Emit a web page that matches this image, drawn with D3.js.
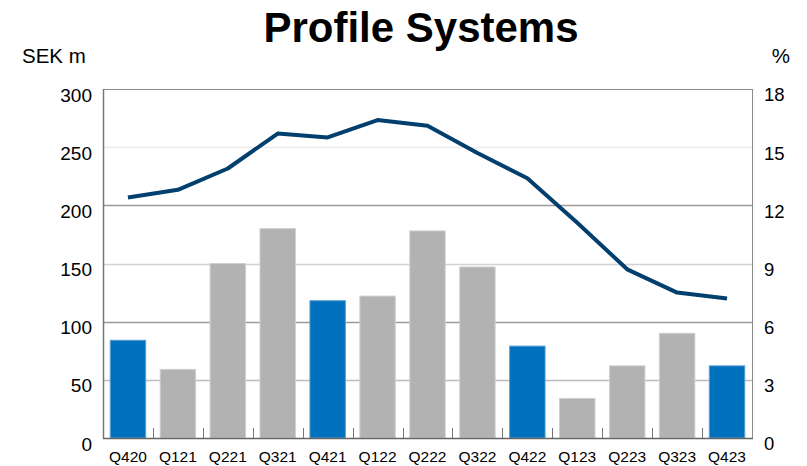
<!DOCTYPE html>
<html lang="en">
  <head>
    <meta charset="utf-8" />
    <script src="https://d3js.org/d3.v7.min.js"></script>
    <style>
      body { margin: 0; background: #fff; }
      text { font-family: "Liberation Sans", Arial, sans-serif; fill: #000; }
    </style>
  </head>
  <body>
    <script type="text/javascript">

      // data
      var quarters = ["Q420", "Q121", "Q221", "Q321", "Q421", "Q122", "Q222",
                      "Q322", "Q422", "Q123", "Q223", "Q323", "Q423"];
      var sales = [84, 59, 150, 180, 118, 122, 178, 147, 79, 34, 62, 90, 62];
      var margin = [12.4, 12.8, 13.9, 15.7, 15.5, 16.4, 16.1, 14.7, 13.4,
                    11.1, 8.7, 7.5, 7.2];
      var fourthQuarter = ["Q420", "Q421", "Q422", "Q423"];
      var leftTicks = [0, 50, 100, 150, 200, 250, 300];
      var rightTicks = [0, 3, 6, 9, 12, 15, 18];

      // svg sizes
      var w = 807;
      var h = 466;
      var leftChart = 103;
      var rightChart = 752;
      var topChart = 89;
      var bottomChart = 438;

      var svg = d3.select("body")
                  .append("svg")
                  .attr("width", w)
                  .attr("height", h);

      // scales
      var xScale = d3.scaleBand()
                     .domain(quarters)
                     .range([leftChart, rightChart])
                     .paddingInner(0.29)
                     .paddingOuter(0.145);
      var xBand = d3.scaleBand()
                    .domain(quarters)
                    .range([leftChart, rightChart]);
      var yLeft = d3.scaleLinear().domain([0, 300]).range([bottomChart, topChart]);
      var yRight = d3.scaleLinear().domain([0, 18]).range([bottomChart, topChart]);

      // gridlines (they come out with different greys in the original)
      var gridColor = {50: "#bdbdbd", 100: "#9a9a9a", 150: "#d2d2d2",
                       200: "#9a9a9a", 250: "#ececec"};
      svg.append("g")
         .selectAll("line")
         .data(leftTicks.filter(function(d) { return d > 0 && d < 300; }))
         .enter()
         .append("line")
         .attr("x1", leftChart)
         .attr("x2", rightChart)
         .attr("y1", function(d) { return Math.round(yLeft(d)) + 0.5; })
         .attr("y2", function(d) { return Math.round(yLeft(d)) + 0.5; })
         .attr("stroke", function(d) { return gridColor[d]; })
         .attr("stroke-width", 1.5);

      // bars
      svg.append("g")
         .selectAll("rect")
         .data(sales)
         .enter()
         .append("rect")
         .attr("x", function(d, i) { return xScale(quarters[i]); })
         .attr("width", xScale.bandwidth())
         .attr("y", function(d) { return yLeft(d); })
         .attr("height", function(d) { return bottomChart - yLeft(d); })
         .attr("fill", function(d, i) {
           return fourthQuarter.indexOf(quarters[i]) >= 0 ? "#0071bc" : "#b2b2b2";
         })
         .attr("stroke", function(d, i) {
           return fourthQuarter.indexOf(quarters[i]) >= 0 ? "#5b9fd3" : "#cfcfcf";
         })
         .attr("stroke-width", 1);

      // frame
      svg.append("rect")
         .attr("x", leftChart + 0.5)
         .attr("y", topChart + 0.5)
         .attr("width", rightChart - leftChart)
         .attr("height", bottomChart - topChart)
         .attr("fill", "none")
         .attr("stroke", "#8c8c8c")
         .attr("stroke-width", 1);
      svg.append("line")
         .attr("x1", leftChart)
         .attr("x2", rightChart + 1)
         .attr("y1", bottomChart + 0.5)
         .attr("y2", bottomChart + 0.5)
         .attr("stroke", "#666")
         .attr("stroke-width", 1.5);
      svg.append("line")
         .attr("x1", leftChart + 0.5)
         .attr("x2", leftChart + 0.5)
         .attr("y1", topChart)
         .attr("y2", bottomChart)
         .attr("stroke", "#777")
         .attr("stroke-width", 1.5);

      // small ticks between categories
      svg.append("g")
         .selectAll("line")
         .data(quarters.slice(1))
         .enter()
         .append("line")
         .attr("x1", function(d) { return Math.round(xBand(d)) + 0.5; })
         .attr("x2", function(d) { return Math.round(xBand(d)) + 0.5; })
         .attr("y1", bottomChart - 10)
         .attr("y2", bottomChart)
         .attr("stroke", "#777")
         .attr("stroke-width", 1);

      // margin line
      var line = d3.line()
                   .x(function(d, i) { return xBand(quarters[i]) + xBand.bandwidth() / 2; })
                   .y(function(d) { return yRight(d); });
      svg.append("path")
         .datum(margin)
         .attr("d", line)
         .attr("fill", "none")
         .attr("stroke", "#003f6e")
         .attr("stroke-width", 4)
         .attr("stroke-linejoin", "round");

      // left axis labels
      svg.append("g")
         .selectAll("text")
         .data(leftTicks)
         .enter()
         .append("text")
         .attr("x", 92)
         .attr("y", function(d) { return yLeft(d) + 6; })
         .attr("dy", "0.35em")
         .style("text-anchor", "end")
         .style("font-size", "19px")
         .text(function(d) { return d; });

      // right axis labels
      svg.append("g")
         .selectAll("text")
         .data(rightTicks)
         .enter()
         .append("text")
         .attr("x", 764)
         .attr("y", function(d) { return yRight(d) + 6; })
         .attr("dy", "0.35em")
         .style("text-anchor", "start")
         .style("font-size", "18.5px")
         .text(function(d) { return d; });

      // category labels
      svg.append("g")
         .selectAll("text")
         .data(quarters)
         .enter()
         .append("text")
         .attr("x", function(d) { return xBand(d) + xBand.bandwidth() / 2; })
         .attr("y", 462)
         .style("text-anchor", "middle")
         .style("font-size", "15.5px")
         .text(function(d) { return d; });

      // title and units
      svg.append("text")
         .attr("x", 421)
         .attr("y", 42)
         .style("text-anchor", "middle")
         .style("font-size", "42px")
         .style("font-weight", "bold")
         .text("Profile Systems");
      svg.append("text")
         .attr("x", 22)
         .attr("y", 63)
         .style("font-size", "20.5px")
         .text("SEK m");
      svg.append("text")
         .attr("x", 790)
         .attr("y", 63)
         .style("text-anchor", "end")
         .style("font-size", "20.5px")
         .text("%");

    </script>
  </body>
</html>
